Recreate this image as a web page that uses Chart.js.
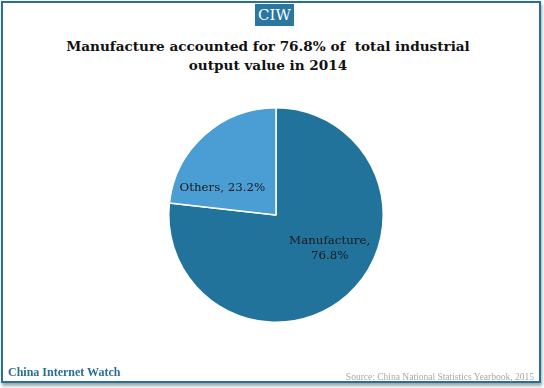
<!DOCTYPE html>
<html>
<head>
<meta charset="utf-8">
<script src="https://cdn.jsdelivr.net/npm/chart.js@4/dist/chart.umd.min.js"></script>
<style>
  body { margin: 0; background: #fff; }
  #wrap { position: relative; width: 544px; height: 388px; overflow: hidden; background: #fff; }
  #frame { position: absolute; left: 1px; top: 1px; width: 536px; height: 378px; border: 2px solid #2a6f98; box-shadow: 1px 3px 3px #9aa; }
  #logo { position: absolute; left: 255px; top: 4px; width: 39px; height: 22px; background: #2a77a0; color: #fff;
          font: 15px "DejaVu Serif", serif; text-align: center; line-height: 22px; }
  #title { position: absolute; left: 0; top: 37px; width: 536px; text-align: center; color: #111;
           font: bold 13.6px "DejaVu Serif", serif; line-height: 19px; }
  #brand { position: absolute; left: 8px; top: 365px; color: #2a6f98; font: bold 12px "Liberation Serif", serif; }
  #source { position: absolute; right: 10px; top: 372px; color: #a8a8a8; font: 9.5px "Liberation Serif", serif; }
  canvas { position: absolute; left: 0; top: 0; }
</style>
</head>
<body>
<div id="wrap">
  <div id="frame"></div>
  <div id="logo">CIW</div>
  <div id="title">Manufacture accounted for 76.8% of&nbsp; total industrial<br>output value in 2014</div>
  <canvas id="pieChart" width="544" height="388"></canvas>
  <div id="brand">China Internet Watch</div>
  <div id="source">Source: China National Statistics Yearbook, 2015</div>
</div>
<script>
var categories = ['Manufacture', 'Others'];
var shares = [76.8, 23.2];
var sliceColors = ['#22739b', '#4a9ed3'];

// where each label sits, as a fraction of the radius from the centre
var labelSpots = [[0.5, 0.31], [-0.5, -0.25]];

var sliceLabels = {
    id: 'sliceLabels',
    afterDatasetsDraw: function (chart) {
        var ctx = chart.ctx;
        var arc = chart.getDatasetMeta(0).data[0];
        ctx.save();
        ctx.fillStyle = '#1a1a1a';
        ctx.font = '11.8px "DejaVu Serif", serif';
        ctx.textAlign = 'center';
        ctx.textBaseline = 'middle';
        categories.forEach(function (name, i) {
            var x = arc.x + labelSpots[i][0] * arc.outerRadius;
            var y = arc.y + labelSpots[i][1] * arc.outerRadius;
            if (i === 0) {
                ctx.fillText(name + ',', x, y - 7);
                ctx.fillText(shares[i] + '%', x, y + 8);
            } else {
                ctx.fillText(name + ', ' + shares[i] + '%', x, y);
            }
        });
        ctx.restore();
    }
};

var ctx1 = document.getElementById('pieChart').getContext('2d');
var pieChart = new Chart(ctx1, {
    type: 'pie',
    data: {
        labels: categories,
        datasets: [{
            data: shares,
            backgroundColor: sliceColors,
            borderColor: '#ffffff',
            borderWidth: 1.5
        }]
    },
    options: {
        responsive: false,
        animation: false,
        layout: { padding: { top: 107, bottom: 65, left: 168, right: 160 } },
        plugins: {
            legend: { display: false },
            tooltip: { enabled: false }
        }
    },
    plugins: [sliceLabels]
});
</script>
</body>
</html>
